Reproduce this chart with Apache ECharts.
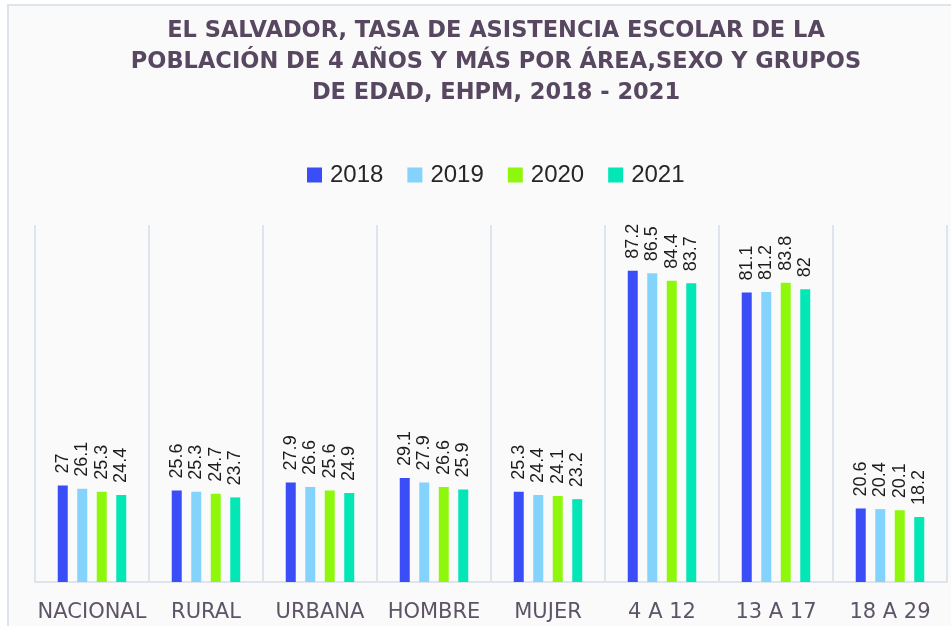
<!DOCTYPE html>
<html>
<head>
<meta charset="utf-8">
<script src="https://cdn.jsdelivr.net/npm/echarts@6/dist/echarts.min.js"></script>
<style>html,body{margin:0;padding:0;background:#ffffff;}#c{width:951px;height:626px;}</style>
</head>
<body>
<div id="c"></div>
<script>
const categories = ['NACIONAL', 'RURAL', 'URBANA', 'HOMBRE', 'MUJER', '4 A 12', '13 A 17', '18 A 29'];
const years = ['2018', '2019', '2020', '2021'];
const v2018 = [27, 25.6, 27.9, 29.1, 25.3, 87.2, 81.1, 20.6];
const v2019 = [26.1, 25.3, 26.6, 27.9, 24.4, 86.5, 81.2, 20.4];
const v2020 = [25.3, 24.7, 25.6, 26.6, 24.1, 84.4, 83.8, 20.1];
const v2021 = [24.4, 23.7, 24.9, 25.9, 23.2, 83.7, 82, 18.2];
const titleText = 'EL SALVADOR, TASA DE ASISTENCIA ESCOLAR DE LA\nPOBLACIÓN DE 4 AÑOS Y MÁS POR ÁREA,SEXO Y GRUPOS\nDE EDAD, EHPM, 2018 - 2021';

const colors = ['#3b4df6', '#84d3fc', '#8ff70c', '#03e6b6'];
const seriesValues = [v2018, v2019, v2020, v2021];

const chart = echarts.init(document.getElementById('c'), null, {renderer: 'canvas'});
chart.setOption({
  animation: false,
  backgroundColor: '#ffffff',
  graphic: [{
    type: 'rect', z: -10, silent: true,
    shape: {x: 8, y: 5, width: 960, height: 640},
    style: {fill: '#fafafa', stroke: '#dde4ec', lineWidth: 2}
  }],
  title: {
    text: titleText,
    left: 491, top: 11,
    textAlign: 'center',
    textStyle: {
      fontFamily: 'DejaVu Sans', fontWeight: 'bold', fontSize: 22.5,
      color: '#584760', lineHeight: 31
    }
  },
  legend: {
    data: years,
    left: 302, top: 158,
    icon: 'rect', itemWidth: 15, itemHeight: 15, itemGap: 24,
    textStyle: {fontFamily: 'Liberation Sans', fontSize: 24, color: '#262626', padding: [0, 0, 0, 3]}
  },
  grid: {left: 35, right: 4, top: 225, bottom: 44, containLabel: false},
  xAxis: {
    type: 'category',
    data: categories,
    axisLine: {show: true, lineStyle: {color: '#dde4ec', width: 2}},
    axisTick: {show: false},
    splitLine: {show: true, lineStyle: {color: '#dde4ec', width: 2}},
    axisLabel: {
      fontFamily: 'DejaVu Sans', fontSize: 21, color: '#5e5467', margin: 20, interval: 0
    }
  },
  yAxis: {
    type: 'value', min: 0, max: 100,
    show: false,
    splitLine: {show: false}
  },
  series: years.map((y, i) => ({
    name: y,
    type: 'bar',
    data: seriesValues[i],
    barWidth: 10,
    barGap: '95%',
    itemStyle: {color: colors[i]},
    label: {
      show: true,
      position: 'top',
      rotate: 90,
      align: 'left',
      verticalAlign: 'middle',
      distance: 12,
      fontFamily: 'Liberation Sans',
      fontSize: 18,
      color: '#1c1c1c'
    }
  }))
});
</script>
</body>
</html>
